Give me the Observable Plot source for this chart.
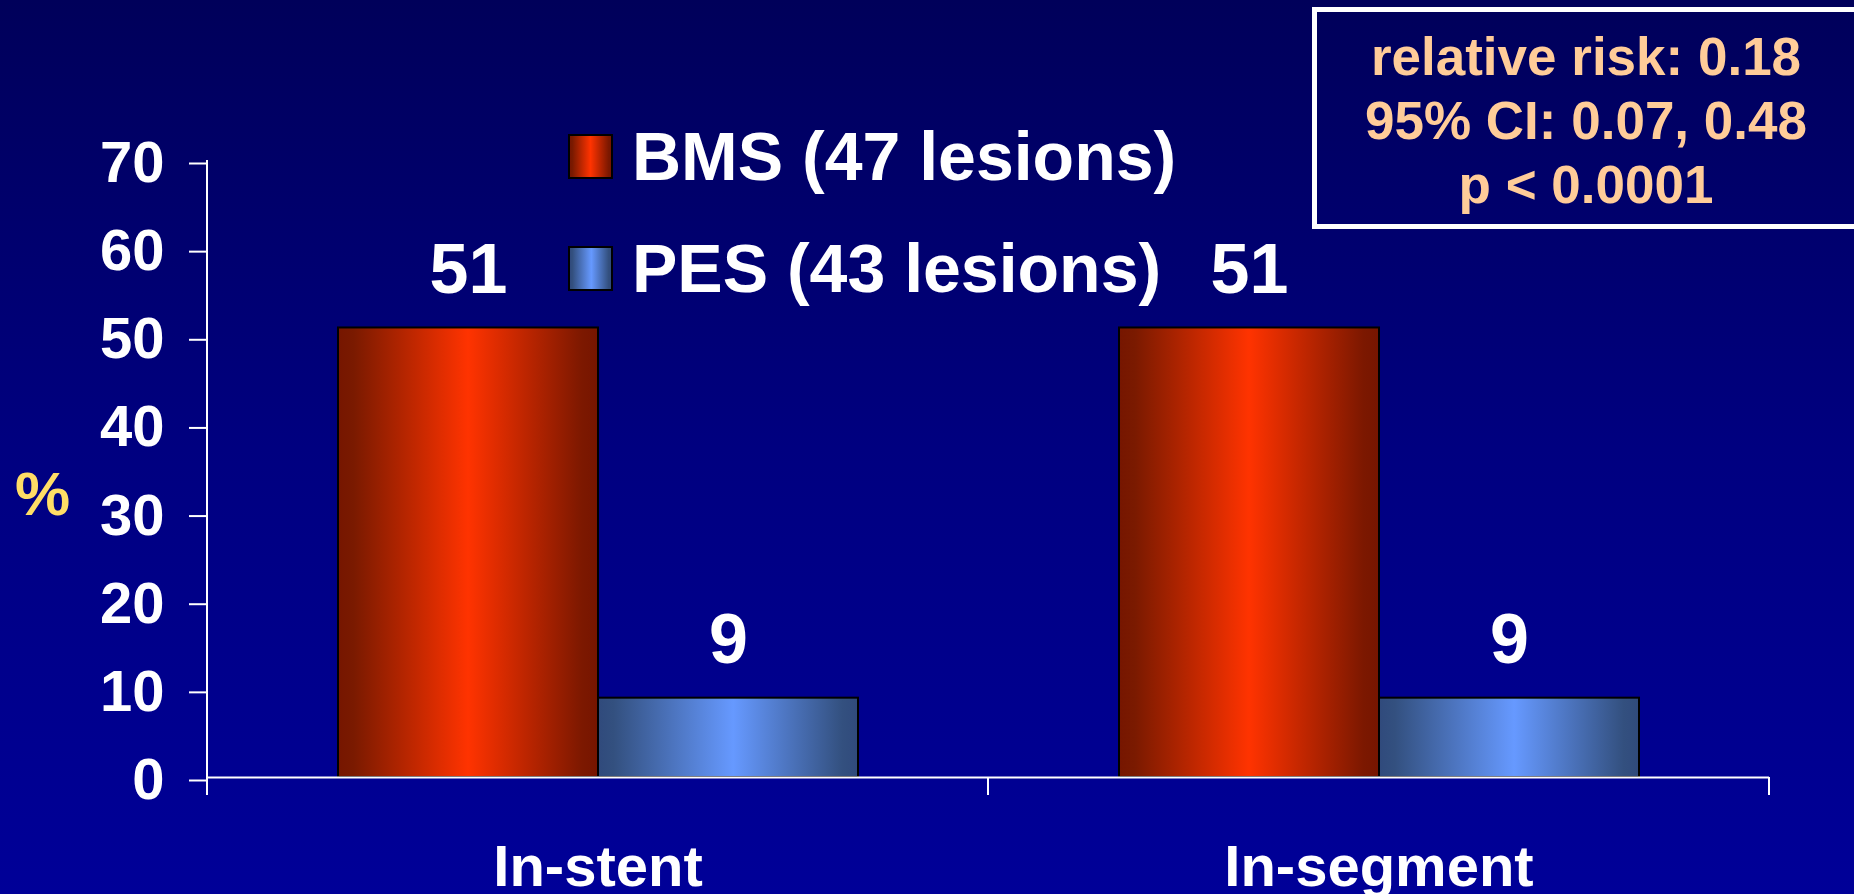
<!DOCTYPE html>
<html>
<head>
<meta charset="utf-8">
<script src="https://cdn.jsdelivr.net/npm/d3@7"></script>
<script src="https://cdn.jsdelivr.net/npm/@observablehq/plot@0.6"></script>
<style>
  html, body { margin: 0; padding: 0; }
  body {
    width: 1854px; height: 894px; overflow: hidden; position: relative;
    background: linear-gradient(to bottom, #00005a 0%, #000080 50%, #000098 100%);
    font-family: "Liberation Sans", Arial, sans-serif; font-weight: bold;
  }
  #chart { position: absolute; left: 0; top: 0; }
  .legend { position: absolute; left: 568px; top: 134px; }
  .legend .row { display: flex; align-items: center; height: 45px; position: absolute; left: 0; white-space: nowrap; }
  .legend .sw { width: 45px; height: 45px; box-sizing: border-box; border: 2px solid #000; flex: none; }
  .legend .lb { color: #fff; font-size: 68px; margin-left: 19px; line-height: 45px; }
  .statbox {
    position: absolute; left: 1312px; top: 7px; width: 548px; height: 222px;
    box-sizing: border-box; border: 5px solid #fff; color: #ffcc99;
    font-size: 53px; line-height: 64px; text-align: center; padding-top: 13px;
  }
  .ylab { position: absolute; left: 15px; top: 463px; color: #ffdd66; font-size: 62px; line-height: 62px; }
</style>
</head>
<body>
<div id="chart"></div>
<div class="legend" id="legend"></div>
<div class="statbox" id="stats"></div>
<div class="ylab" id="ylab"></div>
<script>
const categories = ["In-stent", "In-segment"];
const series = ["BMS", "PES"];
const bmsValues = [51, 51];
const pesValues = [9, 9];
const legendLabels = ["BMS (47 lesions)", "PES (43 lesions)"];
const yTicks = [0, 10, 20, 30, 40, 50, 60, 70];
const statLines = ["relative risk: 0.18", "95% CI: 0.07, 0.48", "p < 0.0001"];
const yLabel = "%";

const gradientStops = {
  BMS: [["0%", "#761600"], ["6%", "#7a1a00"], ["50%", "#ff3300"], ["94%", "#7c1800"], ["100%", "#761500"]],
  PES: [["0%", "#304a7c"], ["6%", "#33507f"], ["52%", "#6699ff"], ["94%", "#33507f"], ["100%", "#304a7c"]]
};

const data = categories.flatMap((c, i) => [
  {category: c, series: "BMS", value: bmsValues[i]},
  {category: c, series: "PES", value: pesValues[i]}
]);

const font = "'Liberation Sans', Arial, sans-serif";

const chart = Plot.plot({
  width: 1854,
  height: 894,
  marginLeft: 207,
  marginRight: 85,
  marginTop: 160,
  marginBottom: 117,
  style: {background: "transparent", color: "white", fontFamily: font, fontWeight: "bold", overflow: "visible"},
  fx: {domain: categories, padding: 0, label: null},
  x: {domain: series, paddingInner: 0, paddingOuter: 0.5, axis: null},
  y: {domain: [0, 70], label: null},
  marks: [
    Plot.axisY({ticks: yTicks, tickSize: 18, tickPadding: 25, fontSize: 58, stroke: "white", strokeWidth: 2, dy: 3, tickFormat: d => String(d), label: null}),
    Plot.axisFx({anchor: "bottom", tickSize: 0, tickPadding: 67, fontSize: 58, label: null}),
    ...series.map(s => Plot.barY(data.filter(d => d.series === s), {
      fx: "category", x: "series", y: "value",
      fill: `url(#grad-${s})`, stroke: "black", strokeWidth: 2
    })),
    Plot.ruleY([0], {stroke: "white", strokeWidth: 2}),
    Plot.text(data, {
      fx: "category", x: "series", y: "value", text: d => String(d.value),
      fill: "white", fontSize: 70, lineAnchor: "bottom", dy: -35
    })
  ]
});

// gradient definitions
const svg = d3.select(chart.tagName.toLowerCase() === "svg" ? chart : chart.querySelector("svg"));
const defs = svg.insert("defs", ":first-child");
for (const s of series) {
  const g = defs.append("linearGradient").attr("id", `grad-${s}`).attr("x1", 0).attr("x2", 1).attr("y1", 0).attr("y2", 0);
  for (const [o, c] of gradientStops[s]) g.append("stop").attr("offset", o).attr("stop-color", c);
}

// Excel-style category boundary ticks and y-axis line, from Plot's scales
const fx = chart.scale("fx");
const y = chart.scale("y");
const bounds = categories.map(c => fx.apply(c));
bounds.push(fx.apply(categories[categories.length - 1]) + fx.bandwidth);
const y0 = y.apply(0), yTop = y.apply(yTicks[yTicks.length - 1]);
const ga = svg.append("g").attr("stroke", "white").attr("stroke-width", 2);
ga.append("line").attr("x1", bounds[0]).attr("x2", bounds[0]).attr("y1", yTop).attr("y2", y0);
for (const b of bounds) ga.append("line").attr("x1", b).attr("x2", b).attr("y1", y0).attr("y2", y0 + 18);

document.getElementById("chart").appendChild(chart);

// legend
const legend = document.getElementById("legend");
series.forEach((s, i) => {
  const row = document.createElement("div");
  row.className = "row";
  row.style.top = (i * 112) + "px";
  const sw = document.createElement("div");
  sw.className = "sw";
  sw.style.background = `linear-gradient(to right, ${gradientStops[s].map(([o, c]) => c + " " + o).join(", ")})`;
  const lb = document.createElement("div");
  lb.className = "lb";
  lb.textContent = legendLabels[i];
  row.appendChild(sw); row.appendChild(lb);
  legend.appendChild(row);
});

// stats box
document.getElementById("stats").innerHTML = statLines.map(t => `<div>${t.replace(/</g, "&lt;")}</div>`).join("");
document.getElementById("ylab").textContent = yLabel;
</script>
</body>
</html>
